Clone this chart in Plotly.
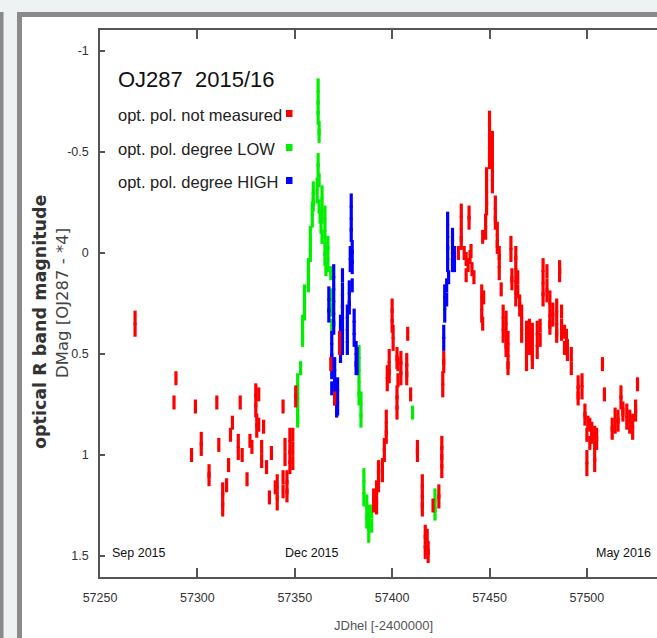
import plotly.graph_objects as go

# ---------------- data (JDhel - 2400000, DMag) ----------------
red_jd = [57268, 57268, 57289, 57288, 57299, 57310, 57322, 57330, 57330, 57330, 57330.5, 57330.5,
          57331.5, 57331.5, 57334, 57344, 57318, 57317, 57302, 57302, 57297, 57311, 57321, 57321,
          57323, 57327, 57328, 57333, 57333, 57338, 57335.5, 57316, 57306, 57306, 57325.5, 57315,
          57313, 57313, 57313, 57337, 57341, 57341, 57341, 57340, 57344, 57344, 57346, 57346, 57346,
          57347.5, 57347.5, 57347.5, 57347.5, 57349, 57349, 57349, 57345, 57345, 57350.5, 57350.5,
          57370.5, 57368.5, 57373, 57373,
          57400, 57400, 57400, 57400.5, 57400.5, 57398.5, 57398.5, 57398.5, 57397.5, 57397.5,
          57402.5, 57402.5, 57404.5, 57404.5, 57404.5, 57403, 57403, 57408, 57407.5, 57407.5, 57407.5,
          57409.5, 57402.5, 57402.5, 57402.5, 57397, 57397, 57397, 57396, 57396, 57395, 57395,
          57393, 57393, 57393, 57392, 57392, 57392, 57390.5, 57390.5, 57413, 57413,
          57415.5, 57415.5, 57415.5, 57415.5, 57417, 57417, 57417, 57418.5, 57418.5, 57418,
          57421, 57424, 57424, 57425.5, 57425.5, 57425.5, 57425.5, 57426, 57426, 57426.5, 57426.5,
          57435.5, 57435.5, 57435.5, 57435.5, 57434, 57439.5, 57439.5, 57437, 57438, 57439, 57440,
          57441, 57442, 57438, 57440.5, 57446, 57446, 57446, 57446.5, 57447, 57446.5,
          57448.5, 57448.5, 57448.5, 57448.5, 57448, 57448, 57450, 57450, 57450, 57450, 57450,
          57451.5, 57451.5, 57451.5, 57451.5, 57451.5, 57453, 57453, 57453, 57454, 57454, 57454,
          57455, 57455, 57455, 57456, 57457, 57457, 57457, 57458.5, 57458.5, 57458.5, 57458.5,
          57459.5, 57459.5, 57459.5, 57459.5, 57461, 57461, 57461.5, 57461.5,
          57463.5, 57463.5, 57463.5, 57463.5, 57463.5, 57464.5, 57464.5, 57465.5, 57465.5,
          57466.5, 57466.5, 57466.5, 57469, 57469, 57469, 57469, 57470.5, 57470.5, 57470.5,
          57472, 57472, 57472, 57472, 57474.5, 57474.5, 57474.5, 57476, 57476,
          57477.5, 57477.5, 57477.5, 57477.5, 57479.5, 57479.5, 57479.5, 57486, 57486,
          57481, 57481, 57481, 57481, 57482.5, 57482.5, 57484.5, 57484.5, 57484.5, 57484.5,
          57487, 57487, 57487, 57488.5, 57488.5, 57489.5, 57489.5, 57490, 57490, 57492, 57492,
          57495.5, 57495.5, 57495.5, 57497.5, 57497.5, 57499, 57499, 57500.5, 57501.5, 57501.5,
          57502.5, 57502.5, 57504, 57504, 57504, 57504, 57505, 57505, 57500, 57500, 57500,
          57508, 57509, 57513, 57513, 57514.5, 57514.5, 57516, 57516, 57517.5, 57517.5,
          57518.5, 57518.5, 57520.5, 57520.5, 57522, 57522, 57523.5, 57523.5, 57525, 57525, 57526]
red_mag = [0.32, 0.38, 0.62, 0.74, 0.76, 0.74, 0.74, 0.68, 0.73, 0.78, 0.83, 0.88,
           0.70, 0.85, 0.86, 0.76, 0.84, 0.90, 0.92, 0.97, 1.00, 0.95, 0.93, 0.99,
           1.00, 0.93, 0.96, 0.96, 1.03, 0.99, 1.06, 1.05, 1.08, 1.12, 1.12, 1.15,
           1.17, 1.22, 1.27, 1.21, 1.13, 1.19, 1.24, 1.16, 1.11, 1.18, 1.11, 1.16, 1.20,
           0.90, 0.96, 1.01, 1.06, 0.90, 0.97, 1.04, 0.95, 1.02, 0.69, 0.73,
           0.72, 0.55, 0.42, 0.47,
           0.26, 0.31, 0.36, 0.39, 0.45, 0.51, 0.57, 0.61, 0.59, 0.65,
           0.50, 0.54, 0.52, 0.57, 0.62, 0.55, 0.63, 0.40, 0.53, 0.58, 0.62,
           0.70, 0.69, 0.74, 0.79, 0.81, 0.87, 0.91, 0.95, 1.00, 1.05, 1.10,
           1.06, 1.11, 1.15, 1.16, 1.21, 1.26, 1.20, 1.25, 0.96, 1.00,
           1.13, 1.18, 1.23, 1.27, 1.38, 1.43, 1.48, 1.46, 1.50, 1.40,
           1.25, 1.18, 1.23, 0.94, 0.99, 1.03, 1.08, 0.62, 0.68, 0.52, 0.56,
           -0.21, -0.15, -0.09, -0.05, 0.00, -0.20, -0.15, 0.00, 0.03, 0.06, 0.02,
           0.08, 0.12, 0.11, -0.01, 0.19, 0.25, 0.31, 0.35, 0.22, -0.08,
           -0.39, -0.33, -0.27, -0.22, -0.16, -0.10, -0.67, -0.61, -0.55, -0.49, -0.45,
           -0.57, -0.51, -0.45, -0.39, -0.33, -0.25, -0.19, -0.15, -0.12, -0.06, -0.03,
           0.00, 0.04, 0.10, 0.18, 0.29, 0.35, 0.41, 0.32, 0.38, 0.44, 0.48,
           0.42, 0.48, 0.54, 0.57, -0.05, 0.01, 0.11, 0.15,
           0.00, 0.05, 0.11, 0.17, 0.23, 0.12, 0.19, 0.24, 0.28,
           0.29, 0.35, 0.41, 0.37, 0.43, 0.49, 0.55, 0.36, 0.42, 0.47,
           0.38, 0.44, 0.50, 0.54, 0.37, 0.43, 0.49, 0.36, 0.43,
           0.06, 0.12, 0.18, 0.23, 0.09, 0.16, 0.21, 0.07, 0.11,
           0.22, 0.28, 0.34, 0.37, 0.28, 0.33, 0.26, 0.32, 0.38, 0.41,
           0.29, 0.36, 0.40, 0.39, 0.47, 0.41, 0.47, 0.46, 0.50, 0.50, 0.57,
           0.64, 0.69, 0.72, 0.63, 0.69, 0.78, 0.82, 0.84, 0.85, 0.94,
           0.87, 0.91, 0.89, 0.94, 1.00, 1.05, 0.90, 0.94, 0.90, 1.01, 1.07,
           0.55, 0.70, 0.85, 0.89, 0.80, 0.86, 0.81, 0.85, 0.69, 0.74,
           0.77, 0.80, 0.78, 0.84, 0.81, 0.86, 0.83, 0.89, 0.76, 0.80, 0.65]

green_jd = [57362, 57362, 57362, 57362, 57362.5, 57362.5, 57362, 57362, 57362.5,
            57359.5, 57359.5, 57359.5, 57361.5, 57361.5, 57362.5, 57363, 57363.5, 57364,
            57364, 57364, 57364, 57365.5, 57365.5, 57365.5, 57365.5, 57365.5, 57366,
            57367, 57367, 57367, 57359, 57359, 57358, 57358, 57358, 57357, 57357, 57357,
            57355, 57355, 57355, 57354, 57354, 57354, 57353, 57351.5, 57351.5, 57351.5,
            57351.5, 57351.5, 57368.5, 57369, 57369, 57369,
            57383, 57383, 57383, 57383, 57383, 57384, 57384, 57384,
            57385.5, 57385.5, 57385.5, 57387, 57387, 57387, 57388, 57388, 57388,
            57389.5, 57389.5, 57410.5, 57422, 57422, 57422]
green_mag = [-0.83, -0.77, -0.72, -0.67, -0.62, -0.58, -0.46, -0.41, -0.36,
             -0.32, -0.27, -0.24, -0.34, -0.28, -0.23, -0.18, -0.13, -0.08,
             -0.30, -0.24, -0.18, -0.20, -0.14, -0.08, -0.02, 0.03, 0.08,
             -0.05, 0.00, 0.06, -0.22, -0.16, -0.10, -0.04, 0.01, 0.06, 0.11, 0.16,
             0.19, 0.25, 0.30, 0.34, 0.40, 0.43, 0.57, 0.63, 0.69, 0.75,
             0.81, 0.83, 0.10, 0.21, 0.28, 0.36,
             0.49, 0.55, 0.61, 0.67, 0.72, 0.72, 0.78, 0.83,
             1.10, 1.16, 1.22, 1.23, 1.29, 1.33, 1.28, 1.34, 1.40,
             1.28, 1.35, 0.79, 1.20, 1.25, 1.29]

blue_jd = [57379, 57379, 57379, 57379, 57379.5, 57379.5, 57379.5, 57378.5, 57378.5,
           57378, 57378, 57378, 57379.5, 57380.5, 57380.5, 57380.5, 57381.5, 57381.5, 57381.5,
           57370, 57370, 57370, 57370, 57370, 57370, 57367.5, 57367.5, 57367.5,
           57369, 57369, 57369, 57369, 57369, 57370.5, 57370.5, 57370.5, 57370.5,
           57372, 57372, 57372, 57371.5, 57373.5, 57373.5, 57373.5, 57373.5,
           57374.5, 57374.5, 57374.5, 57374.5, 57374.5, 57374.5, 57374.5,
           57377, 57377, 57377, 57377, 57382, 57382,
           57428.5, 57428.5, 57428.5, 57428.5, 57428.5, 57429, 57431, 57431, 57431, 57431,
           57432, 57432, 57427, 57427, 57427, 57426.5, 57426.5, 57428, 57428]
blue_mag = [-0.26, -0.20, -0.14, -0.09, -0.03, 0.02, 0.07, 0.00, 0.06,
            0.17, 0.23, 0.27, 0.16, 0.31, 0.37, 0.43, 0.47, 0.53, 0.57,
            0.09, 0.15, 0.21, 0.27, 0.33, 0.37, 0.20, 0.26, 0.31,
            0.42, 0.48, 0.53, 0.59, 0.67, 0.55, 0.61, 0.67, 0.72,
            0.65, 0.71, 0.77, 0.78, 0.34, 0.40, 0.46, 0.51,
            0.11, 0.18, 0.24, 0.29, 0.35, 0.41, 0.47,
            0.29, 0.35, 0.41, 0.47, 0.50, 0.57,
            -0.17, -0.11, -0.05, 0.00, 0.06, 0.12, -0.09, -0.03, 0.03, 0.06,
            0.00, 0.06, 0.19, 0.25, 0.31, 0.39, 0.45, 0.16, 0.23]

x_ticks = [57250, 57300, 57350, 57400, 57450, 57500]
x_tick_text = ["57250", "57300", "57350", "57400", "57450", "57500"]
y_ticks = [-1, -0.5, 0, 0.5, 1, 1.5]
y_tick_text = ["-1", "-0.5", "0", "0.5", "1", "1.5"]
month_labels = ["Sep 2015", "Dec 2015", "May 2016"]
month_label_jd = [57270, 57359, 57519]
title_text = "OJ287  2015/16"
legend_labels = ["opt. pol. not measured", "opt. pol. degree LOW", "opt. pol. degree HIGH"]
series_colors = ["#ff0000", "#00ee00", "#0000ff"]

# ---------------- layout geometry ----------------
W, H = 657, 638
ML, MR, MT, MB = 100, 0, 30, 61
SANS = "Liberation Sans, Arial, sans-serif"


def px(x):
    return (x - ML) / (W - ML - MR)


def py(y):
    return (H - MB - y) / (H - MT - MB)


fig = go.Figure()


def add_series(xs, ys, color):
    fig.add_trace(go.Scatter(
        x=xs, y=ys, mode="markers", hoverinfo="skip", showlegend=False,
        marker=dict(symbol="line-ns", size=10, color=color,
                    line=dict(color=color, width=3.2)),
    ))


add_series(green_jd, green_mag, series_colors[1])
add_series(blue_jd, blue_mag, series_colors[2])
add_series(red_jd, red_mag, series_colors[0])

shapes = [
    dict(type="rect", xref="paper", yref="paper", layer="below",
         x0=px(19.5), x1=px(720), y0=py(14.5), y1=py(720),
         fillcolor="white", line=dict(color="#8a8a8a", width=5)),
    dict(type="rect", xref="paper", yref="paper", layer="below",
         x0=px(-5), x1=px(3.5), y0=py(12), y1=py(720),
         fillcolor="#8a8a8a", line=dict(width=0)),
]
for c, yc in zip(series_colors, [113.5, 147.5, 180.5]):
    shapes.append(dict(type="rect", xref="paper", yref="paper",
                       x0=px(286), x1=px(292.5), y0=py(yc - 3.5), y1=py(yc + 3.5),
                       fillcolor=c, line=dict(width=0)))

annotations = [
    dict(text=title_text, x=px(116), y=py(79), xref="paper", yref="paper",
         xanchor="left", yanchor="middle", showarrow=False,
         font=dict(family=SANS, size=22, color="#111")),
]
for lab, yc in zip(legend_labels, [115, 149, 182]):
    annotations.append(dict(text=lab, x=px(116), y=py(yc), xref="paper", yref="paper",
                            xanchor="left", yanchor="middle", showarrow=False,
                            font=dict(family=SANS, size=16.5, color="#222")))
for lab, jd in zip(month_labels, month_label_jd):
    annotations.append(dict(text=lab, x=jd, y=py(553), xref="x", yref="paper",
                            xanchor="center", yanchor="middle", showarrow=False,
                            font=dict(family=SANS, size=12.5, color="#111")))
annotations += [
    dict(text="<b>optical R band magnitude</b>", x=px(40), y=py(322), xref="paper", yref="paper",
         textangle=-90, showarrow=False, xanchor="center", yanchor="middle",
         font=dict(family="DejaVu Sans", size=17.5, color="#333")),
    dict(text="DMag [OJ287 - *4]", x=px(62), y=py(303), xref="paper", yref="paper",
         textangle=-90, showarrow=False, xanchor="center", yanchor="middle",
         font=dict(family="DejaVu Sans", size=16.5, color="#444")),
    dict(text="JDhel [-2400000]", x=px(383), y=py(625), xref="paper", yref="paper",
         showarrow=False, xanchor="center", yanchor="middle",
         font=dict(family=SANS, size=13, color="#555")),
]

axis_common = dict(showgrid=False, zeroline=False, showline=True, linecolor="#555",
                   linewidth=1.5, ticks="inside", tickcolor="#555", tickwidth=1.5,
                   tickfont=dict(family=SANS, size=12.5, color="#333"))

fig.update_layout(
    width=W, height=H,
    margin=dict(l=ML, r=MR, t=MT, b=MB, autoexpand=False),
    paper_bgcolor="#eef2f3", plot_bgcolor="white",
    xaxis=dict(range=[57250, 57536], tickvals=x_ticks, ticktext=x_tick_text, ticklen=9,
               mirror="ticks", ticklabelstandoff=8, **axis_common),
    yaxis=dict(range=[1.604, -1.104], tickvals=y_ticks, ticktext=y_tick_text, ticklen=5,
               ticklabelstandoff=7, **axis_common),
    shapes=shapes, annotations=annotations,
)

fig.write_html("out.html")
